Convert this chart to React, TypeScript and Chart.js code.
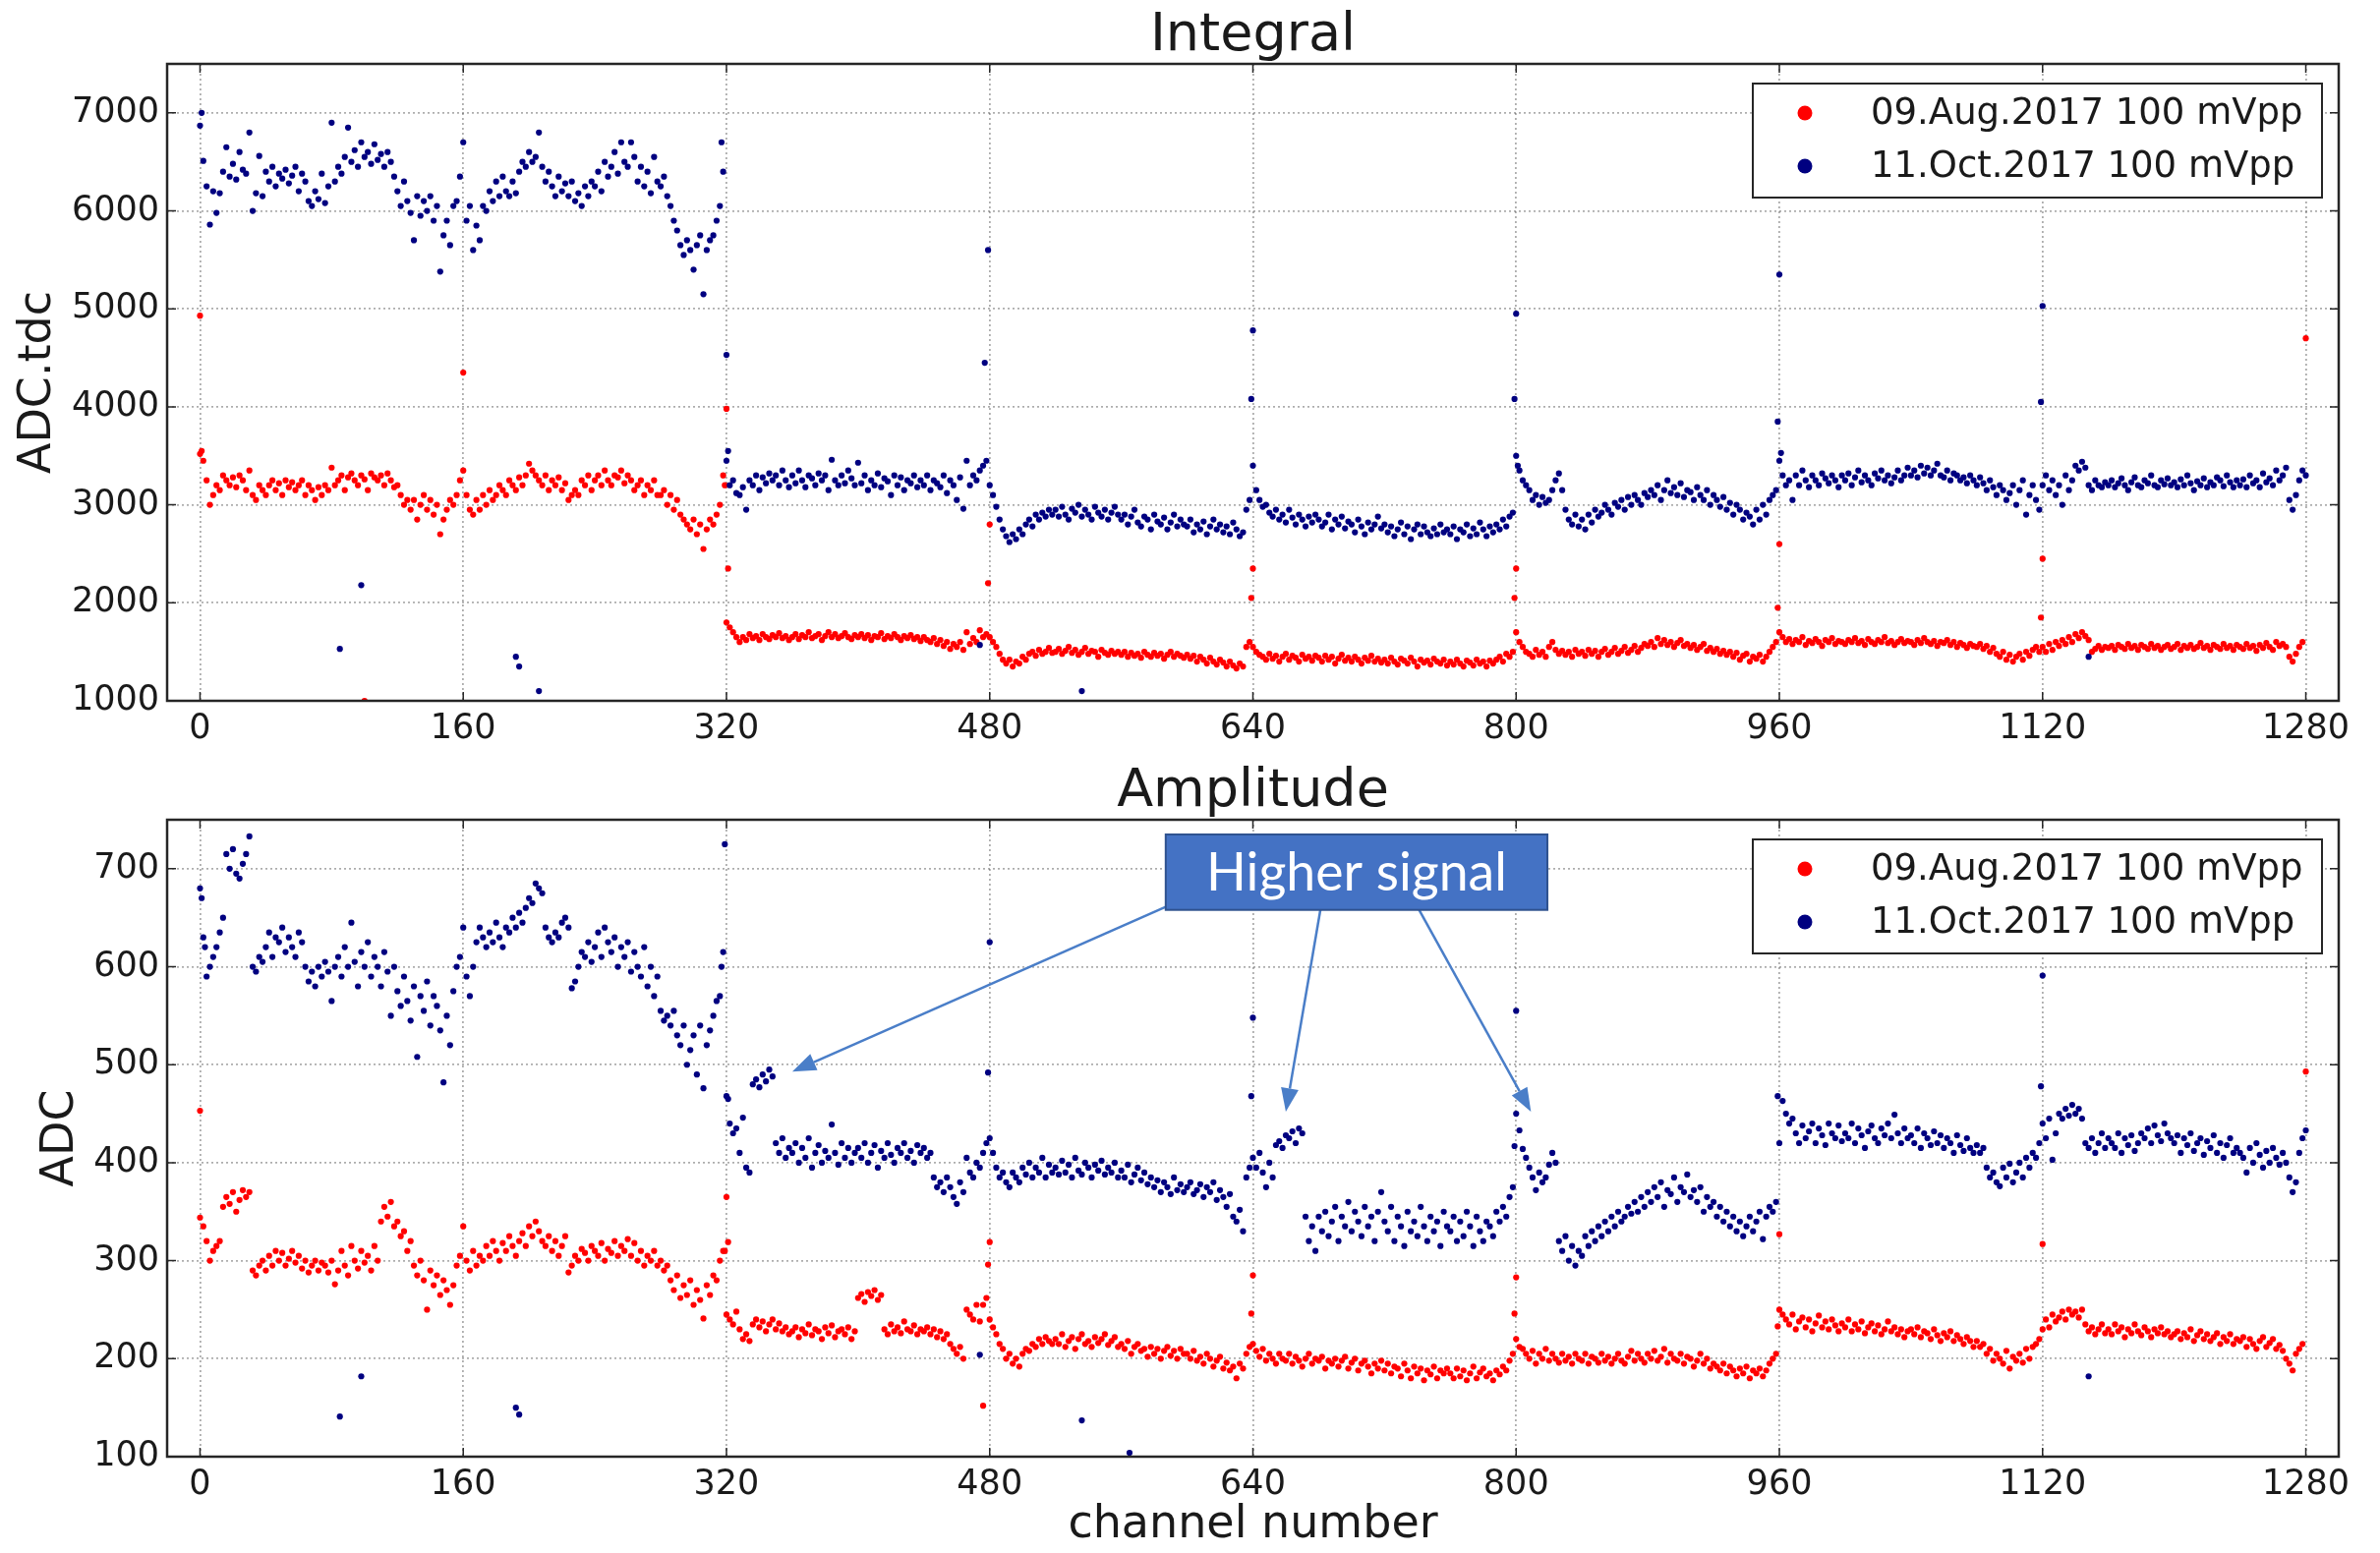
import React, { useEffect, useRef } from "react";
import { Chart, registerables } from "chart.js";

Chart.register(...registerables);

// ---------- labels / ticks ----------
const xTickValues = [0, 160, 320, 480, 640, 800, 960, 1120, 1280];
const integralTicks = [1000, 2000, 3000, 4000, 5000, 6000, 7000];
const amplitudeTicks = [100, 200, 300, 400, 500, 600, 700];
const seriesLabels = ["09.Aug.2017 100 mVpp", "11.Oct.2017 100 mVpp"];
const noteText = "Higher signal";
const CHANNEL_STEP = 2; // values below are read at channels 0, 2, 4, ...

// ---------- Integral, 09.Aug.2017 ----------
const intAug = [
  3520, 3450, 3250, 3000, 3100, 3200, 3150, 3300, 3250, 3200, 3280, 3180, 3300, 3250, 3150, 3350, 3100, 3050, 3200, 3150,
  3100, 3200, 3250, 3150, 3220, 3100, 3250, 3180, 3230, 3150, 3200, 3250, 3100, 3200, 3150, 3050, 3180, 3100, 3200, 3150,
  3380, 3200, 3250, 3300, 3150, 3280, 3320, 3250, 3200, 3300, 3260, 3150, 3320, 3280, 3250, 3300, 3200, 3320, 3250, 3180,
  3200, 3100, 3000, 3050, 2950, 3050, 2850, 3000, 3100, 2950, 3050, 2900, 3000, 2700, 2850, 2950, 3050, 3000, 3100, 3250,
  3350, 3100, 2950, 2900, 3050, 2950, 3100, 3000, 3150, 3050, 3100, 3200, 3150, 3100, 3250, 3200, 3150, 3280, 3200, 3300,
  3420, 3350, 3300, 3250, 3200, 3300, 3150, 3250, 3200, 3280, 3150, 3220, 3050, 3100, 3150, 3100, 3250, 3200, 3300, 3150,
  3250, 3300, 3200, 3350, 3250, 3200, 3300, 3280, 3350, 3220, 3300, 3250, 3150, 3200, 3250, 3100, 3200, 3150, 3250, 3100,
  3100, 3150, 3000, 3100, 2950, 3050, 2900, 2850, 2800, 2750, 2850, 2700, 2800, 2550, 2750, 2850, 2800, 2900, 3000, 3300,
  1800, 1750, 1700, 1650, 1600, 1650, 1620, 1680, 1640, 1660, 1620, 1680, 1650, 1630, 1670, 1650, 1690, 1640, 1660, 1620,
  1650, 1680, 1630, 1670, 1650, 1700, 1640, 1660, 1680, 1620, 1660, 1700, 1650, 1680, 1640, 1660, 1690, 1650, 1630, 1670,
  1650, 1680, 1640, 1670, 1620, 1660, 1650, 1690, 1630, 1660, 1640, 1680, 1650, 1620, 1660, 1640, 1670, 1630, 1650, 1610,
  1650, 1620, 1600, 1640, 1580, 1620, 1560, 1600, 1530, 1580, 1550, 1600, 1520, 1700, 1580, 1640, 1600, 1720, 1650, 1680,
  1650, 1600, 1550, 1480, 1420, 1380, 1420, 1350, 1400, 1380, 1450, 1420, 1480, 1500, 1460, 1520, 1480, 1500, 1540, 1490,
  1500, 1530, 1480, 1510, 1550, 1490, 1520, 1470, 1500, 1540, 1480, 1510, 1500, 1450, 1520, 1490, 1470, 1510, 1480, 1500,
  1470, 1500, 1450, 1490, 1460, 1480, 1440, 1500, 1470, 1450, 1490, 1460, 1480, 1430, 1470, 1500, 1450, 1480, 1460, 1440,
  1470, 1430, 1460, 1400, 1450, 1420, 1380, 1440, 1400, 1370, 1420, 1390, 1350, 1400, 1360, 1330, 1380, 1350, 1550, 1600,
  1550, 1500, 1470, 1450, 1420, 1480, 1430, 1460, 1400, 1450, 1480, 1420, 1460, 1440, 1400, 1470, 1430, 1450, 1410, 1460,
  1440, 1400, 1460, 1420, 1450, 1380, 1430, 1470, 1410, 1440, 1400, 1450, 1420, 1380, 1440, 1410, 1460, 1400, 1430, 1390,
  1420, 1380, 1440, 1400, 1370, 1430, 1410, 1380, 1440, 1400, 1350, 1420, 1390, 1410, 1370, 1430, 1400, 1380, 1420, 1360,
  1400, 1370, 1420, 1380, 1350, 1410, 1390, 1360, 1420, 1380, 1400, 1350, 1410, 1380, 1420, 1450, 1400, 1480, 1450, 1500,
  1700, 1600, 1550, 1500, 1480, 1450, 1520, 1470, 1500, 1450, 1550, 1600, 1520, 1480, 1510, 1470, 1500, 1450, 1520, 1480,
  1500, 1460, 1520, 1480, 1510, 1450, 1500, 1530, 1470, 1500, 1540, 1480, 1510, 1550, 1490, 1520, 1560, 1500, 1540, 1580,
  1560, 1600, 1550, 1640, 1580, 1620, 1570, 1600, 1550, 1590, 1620, 1560, 1580, 1540, 1570, 1520, 1550, 1580, 1510, 1540,
  1500, 1530, 1480, 1510, 1470, 1500, 1450, 1490, 1420, 1460, 1480, 1400, 1450, 1430, 1470, 1400, 1450, 1500, 1550, 1600,
  1700, 1650, 1600, 1630, 1580, 1620, 1600, 1650, 1570, 1610, 1590, 1630, 1600, 1560, 1620, 1600, 1640, 1580, 1610, 1600,
  1580, 1620, 1600, 1640, 1590, 1610, 1570, 1630, 1600, 1580, 1620, 1600, 1650, 1590, 1610, 1570, 1600, 1630, 1590, 1610,
  1600, 1570, 1620, 1590, 1640, 1600, 1580, 1610, 1560, 1600, 1590, 1620, 1570, 1600, 1550, 1590, 1570, 1540, 1580, 1560,
  1550, 1580, 1530, 1560, 1500, 1540, 1480, 1450, 1500, 1420, 1470, 1400, 1450, 1480, 1420, 1500, 1460, 1520, 1550, 1500,
  1550, 1500, 1580, 1520, 1600, 1560, 1620, 1580, 1650, 1600, 1680, 1640, 1700, 1660, 1620, 1500, 1530, 1560, 1520, 1550,
  1540, 1560, 1520, 1570, 1550, 1530, 1580, 1540, 1560, 1520, 1570, 1550, 1530, 1580, 1540, 1560, 1520, 1550, 1570, 1530,
  1550, 1580, 1520, 1560, 1540, 1570, 1530, 1550, 1590, 1540, 1560, 1520, 1570, 1550, 1530, 1580, 1540, 1560, 1520, 1570,
  1550, 1530, 1580, 1540, 1560, 1510, 1570, 1540, 1590, 1550, 1520, 1600, 1560, 1580, 1550, 1450, 1400, 1480, 1550, 1600,
];
const intAugExtra = [
  [0, 4930], [1, 3550], [100, 1000], [160, 4350], [319, 3200], [320, 3980], [321, 2350],
  [479, 2200], [480, 2800], [639, 2050], [640, 2350], [799, 2050], [800, 2350],
  [959, 1950], [960, 2600], [1119, 1850], [1120, 2450], [1280, 4700],
];

// ---------- Integral, 11.Oct.2017 ----------
const intOct = [
  6870, 6510, 6250, 5860, 6200, 5980, 6180, 6400, 6650, 6350, 6480, 6320, 6600, 6420, 6380, 6800, 6000, 6180, 6560, 6150,
  6400, 6300, 6450, 6250, 6380, 6330, 6420, 6280, 6360, 6450, 6200, 6380, 6300, 6100, 6050, 6200, 6120, 6380, 6080, 6250,
  6900, 6300, 6450, 6380, 6550, 6850, 6500, 6620, 6450, 6700, 6550, 6600, 6480, 6680, 6520, 6580, 6450, 6600, 6500, 6350,
  6200, 6050, 6300, 6100, 5980, 5700, 6150, 5950, 6100, 6000, 6150, 5900, 6050, 5380, 5750, 5900, 5650, 6050, 6100, 6350,
  6700, 5900, 6050, 5600, 5850, 5700, 6050, 6000, 6200, 6100, 6300, 6150, 6350, 6200, 6150, 6300, 6180, 6400, 6500, 6450,
  6600, 6500, 6550, 6800, 6450, 6300, 6400, 6250, 6150, 6350, 6200, 6280, 6150, 6300, 6100, 6180, 6050, 6250, 6150, 6300,
  6250, 6400, 6200, 6500, 6350, 6450, 6600, 6380, 6700, 6500, 6450, 6700, 6550, 6300, 6450, 6250, 6400, 6180, 6550, 6300,
  6250, 6350, 6150, 6050, 5900, 5800, 5650, 5550, 5700, 5600, 5400, 5650, 5750, 5150, 5600, 5700, 5750, 5900, 6050, 6400,
  3450, 3200, 3250, 3120, 3100, 3180, 2950, 3250, 3200, 3300, 3150, 3280, 3220, 3320, 3250, 3300, 3200, 3350, 3250, 3180,
  3300, 3220, 3350, 3250, 3180, 3300, 3270, 3200, 3320, 3250, 3300, 3150, 3460, 3250, 3200, 3300, 3220, 3350, 3270, 3200,
  3430, 3220, 3300, 3150, 3250, 3200, 3320, 3180, 3270, 3240, 3100, 3300, 3200, 3280, 3150, 3250, 3220, 3300, 3180, 3250,
  3200, 3300, 3150, 3250, 3220, 3180, 3300, 3120, 3250, 3200, 3050, 3280, 2960, 3450, 3200, 3300, 3250, 3350, 3400, 3450,
  3200, 3100, 2980, 2850, 2750, 2680, 2620, 2700, 2650, 2750, 2700, 2800, 2850, 2780, 2900, 2850, 2920, 2880, 2950, 2900,
  2950, 2880, 2980, 2900, 2850, 2960, 2920, 3000, 2880, 2950, 2900, 2850, 2980, 2920, 2880, 2950, 2850, 2920, 2980, 2900,
  2850, 2900, 2800, 2880, 2950, 2820, 2780, 2880, 2850, 2750, 2900, 2830, 2800, 2870, 2750, 2820, 2900, 2780, 2850, 2800,
  2780, 2850, 2720, 2800, 2750, 2830, 2700, 2780, 2850, 2750, 2800, 2720, 2780, 2700, 2820, 2750, 2680, 2720, 2950, 3050,
  3400, 3150, 3050, 2980, 3000, 2920, 2880, 2950, 2850, 2900, 2820, 2950, 2870, 2800, 2900, 2850, 2780, 2880, 2820, 2900,
  2850, 2780, 2820, 2900, 2750, 2850, 2800, 2880, 2760, 2830, 2800, 2720, 2850, 2780, 2700, 2820, 2750, 2800, 2880, 2760,
  2800, 2720, 2780, 2680, 2750, 2820, 2700, 2780, 2650, 2750, 2800, 2700, 2780, 2720, 2680, 2760, 2700, 2800, 2720, 2750,
  2700, 2780, 2650, 2750, 2720, 2800, 2680, 2760, 2700, 2820, 2750, 2680, 2780, 2720, 2800, 2750, 2850, 2780, 2880, 2920,
  3500, 3350, 3250, 3200, 3150, 3050, 3100, 3000, 3080, 3020, 3050, 3150, 3250, 3320, 3150, 2950, 2850, 2800, 2900, 2780,
  2850, 2750, 2900, 2820, 2950, 2880, 2920, 3000, 2950, 2900, 3020, 2980, 3050, 2950, 3080, 3000, 3100, 3050, 3000, 3120,
  3080, 3150, 3100, 3200, 3050, 3150, 3250, 3120, 3180, 3100, 3220, 3080, 3150, 3130, 3050, 3180, 3100, 3050, 3150, 3000,
  3100, 3050, 2980, 3080, 2950, 3020, 2900, 3000, 2950, 2850, 2920, 2880, 2800, 2950, 2850, 3000, 2900, 3050, 3100, 3150,
  3450, 3300, 3200, 3250, 3050, 3300, 3200, 3350, 3250, 3180, 3300, 3250, 3200, 3320, 3270, 3220, 3300, 3250, 3180, 3300,
  3250, 3320, 3200, 3280, 3350, 3230, 3300, 3250, 3200, 3320, 3270, 3350, 3250, 3300, 3220, 3280, 3350, 3250, 3300, 3380,
  3300, 3350, 3280, 3400, 3320, 3380, 3300, 3350, 3420, 3300, 3280, 3350, 3250, 3320, 3300, 3250, 3280, 3220, 3300, 3250,
  3200, 3280, 3220, 3150, 3250, 3180, 3100, 3200, 3150, 3050, 3120, 3200, 3000, 3150, 3250, 2900, 3100, 3200, 3050, 2950,
  3200, 3300, 3150, 3250, 3100, 3200, 3000, 3300, 3150, 3250, 3400, 3350, 3440, 3380, 3200, 3150, 3250, 3200, 3180, 3230,
  3200, 3250, 3180, 3220, 3270, 3200, 3150, 3230, 3280, 3200, 3180, 3250, 3220, 3300, 3200, 3180, 3250, 3210, 3270, 3200,
  3230, 3180, 3260, 3200, 3300, 3220, 3150, 3240, 3200, 3270, 3180, 3230, 3200, 3280, 3250, 3190, 3300, 3230, 3180, 3250,
  3200, 3260, 3180, 3300, 3220, 3250, 3180, 3320, 3230, 3270, 3200, 3350, 3250, 3300, 3380, 3050, 2950, 3100, 3250, 3350,
];
const intOctExtra = [
  [1, 7000], [85, 1530], [98, 2180], [192, 1450], [194, 1350], [206, 1100], [317, 6700],
  [320, 4530], [321, 3550], [474, 1570], [477, 4450], [479, 5600], [536, 1100],
  [639, 4080], [640, 4780], [799, 4080], [800, 4950], [801, 3400], [959, 3850],
  [960, 5350], [961, 3530], [1119, 4050], [1120, 5030], [1148, 1450], [1280, 3300],
];

// ---------- Amplitude, 09.Aug.2017 ----------
const ampAug = [
  344, 335, 320, 300, 310, 315, 320, 355, 365, 358, 370, 350, 362, 372, 365, 370, 290, 285, 295, 300,
  290, 305, 295, 310, 300, 308, 295, 302, 310, 298, 305, 292, 300, 288, 295, 300, 290, 298, 295, 288,
  300, 276, 290, 310, 295, 285, 315, 300, 292, 310, 298, 305, 290, 315, 300, 340, 355, 345, 360, 335,
  340, 325, 330, 310, 320, 295, 285, 300, 280, 250, 290, 275, 285, 265, 280, 270, 255, 275, 295, 305,
  335, 300, 290, 310, 295, 305, 300, 315, 305, 320, 310, 300, 318, 310, 325, 315, 305, 320, 328, 315,
  335, 325, 340, 330, 320, 315, 325, 310, 320, 305, 315, 325, 288, 295, 305, 300, 312, 308, 300, 315,
  310, 305, 318, 300, 312, 308, 320, 305, 315, 310, 322, 305, 318, 300, 310, 295, 305, 300, 310, 295,
  300, 290, 295, 280, 270, 285, 262, 275, 265, 280, 255, 270, 260, 241, 275, 265, 285, 280, 300, 310,
  245, 240, 235, 248, 230, 220, 225, 218, 235, 240, 232, 238, 228, 235, 240, 230, 236, 228, 232, 225,
  228, 232, 222, 230, 226, 235, 224, 230, 228, 220, 232, 226, 234, 222, 228, 230, 225, 232, 220, 228,
  262, 266, 258, 268, 264, 270, 260, 265, 230, 225, 235, 228, 232, 226, 238, 230, 228, 234, 225, 230,
  228, 232, 225, 230, 222, 228, 220, 225, 215, 210, 205, 212, 200, 250, 245, 240, 255, 238, 255, 262,
  240, 232, 225, 215, 210, 200, 205, 195, 200, 192, 205, 210, 208, 215, 212, 220, 215, 222, 218, 215,
  220, 215, 225, 212, 218, 222, 210, 220, 225, 215, 218, 212, 222, 216, 220, 225, 214, 218, 222, 212,
  215, 210, 218, 205, 212, 215, 208, 210, 202, 212, 205, 210, 200, 208, 212, 203, 208, 200, 210, 205,
  205, 200, 208, 198, 202, 195, 205, 200, 192, 198, 202, 190, 196, 188, 192, 180, 195, 190, 205, 212,
  215, 208, 202, 210, 198, 205, 200, 195, 205, 200, 198, 205, 195, 202, 198, 192, 200, 205, 195, 200,
  198, 202, 190, 198, 195, 200, 192, 198, 202, 190, 196, 200, 188, 195, 198, 192, 185, 195, 190, 198,
  188, 195, 185, 192, 190, 182, 195, 188, 180, 192, 185, 190, 178, 188, 184, 192, 180, 188, 185, 190,
  185, 180, 190, 182, 188, 178, 185, 192, 180, 186, 190, 182, 185, 178, 188, 184, 192, 188, 198, 205,
  220, 212, 210, 205, 200, 208, 195, 205, 200, 210, 198, 205, 200, 196, 205, 198, 202, 195, 205, 200,
  198, 205, 195, 202, 200, 196, 205, 198, 202, 195, 200, 205, 198, 195, 202, 208, 198, 205, 200, 196,
  205, 200, 208, 198, 202, 210, 196, 205, 200, 198, 205, 195, 202, 200, 192, 198, 205, 195, 200, 190,
  195, 192, 188, 195, 185, 192, 188, 182, 190, 185, 192, 180, 188, 185, 190, 182, 188, 195, 200, 205,
  250, 245, 240, 235, 245, 230, 238, 242, 232, 240, 228, 236, 244, 232, 238, 230, 240, 234, 228, 236,
  232, 240, 228, 235, 230, 238, 226, 232, 236, 228, 234, 225, 230, 238, 228, 232, 225, 230, 222, 228,
  230, 225, 232, 222, 228, 226, 220, 230, 224, 218, 226, 222, 228, 218, 224, 220, 215, 222, 218, 212,
  218, 212, 215, 205, 210, 198, 205, 200, 195, 208, 190, 202, 198, 205, 196, 210, 200, 212, 215, 220,
  230, 240, 232, 245, 238, 242, 248, 240, 250, 245, 248, 242, 250, 235, 228, 232, 225, 230, 235, 226,
  230, 225, 235, 228, 232, 222, 230, 226, 235, 228, 224, 232, 228, 222, 230, 226, 232, 225, 228, 222,
  225, 228, 220, 226, 222, 230, 218, 224, 228, 220, 225, 218, 222, 226, 215, 222, 218, 225, 215, 220,
  218, 222, 212, 220, 215, 210, 218, 222, 212, 216, 220, 210, 214, 208, 200, 195, 188, 205, 210, 215,
];
const ampAugExtra = [
  [0, 453], [319, 310], [320, 365], [321, 319], [476, 152], [479, 296], [480, 319],
  [639, 246], [640, 285], [799, 246], [800, 283], [959, 233], [960, 327], [1120, 317], [1280, 493],
];

// ---------- Amplitude, 11.Oct.2017 ----------
const ampOct = [
  680, 630, 590, 600, 610, 620, 635, 650, 715, 700, 720, 695, 690, 705, 715, 733, 600, 595, 610, 605,
  620, 635, 610, 630, 625, 640, 615, 630, 620, 610, 635, 625, 600, 585, 595, 580, 600, 590, 605, 595,
  565, 600, 610, 590, 620, 600, 645, 605, 580, 615, 600, 625, 590, 610, 600, 580, 615, 595, 550, 600,
  575, 560, 590, 565, 545, 580, 508, 570, 555, 585, 540, 570, 560, 535, 482, 550, 520, 575, 600, 610,
  640, 590, 570, 600, 625, 640, 630, 620, 635, 625, 645, 630, 620, 640, 635, 650, 640, 655, 645, 660,
  670, 665, 685, 680, 675, 640, 630, 625, 635, 630, 645, 650, 640, 578, 585, 600, 615, 610, 625, 605,
  620, 635, 610, 640, 625, 615, 630, 600, 620, 610, 625, 595, 615, 600, 590, 620, 580, 600, 570, 590,
  555, 545, 550, 540, 555, 530, 520, 540, 500, 515, 530, 490, 540, 476, 520, 535, 550, 565, 570, 615,
  468, 440, 430, 435, 410, 446, 395, 390, 480, 485, 477, 490, 483, 495, 488, 420, 410, 425, 405, 415,
  410, 420, 400, 415, 405, 425, 395, 410, 418, 400, 412, 405, 439, 410, 398, 420, 405, 415, 400, 410,
  415, 405, 420, 400, 410, 418, 395, 412, 405, 420, 408, 400, 415, 410, 420, 405, 412, 400, 418, 410,
  415, 405, 410, 385, 375, 380, 370, 385, 375, 365, 358, 380, 370, 405, 390, 385, 400, 395, 410, 420,
  425, 410, 395, 385, 390, 380, 375, 390, 385, 380, 395, 388, 400, 385, 395, 390, 405, 385, 398, 390,
  395, 388, 402, 390, 398, 385, 405, 392, 388, 400, 395, 385, 398, 392, 402, 388, 395, 390, 400, 385,
  392, 385, 398, 380, 388, 395, 382, 390, 378, 385, 375, 382, 370, 380, 375, 368, 385, 372, 378, 370,
  375, 380, 368, 372, 378, 365, 375, 370, 380, 362, 372, 365, 355, 368, 345, 340, 352, 330, 385, 395,
  405, 395, 410, 390, 375, 400, 385, 418, 422, 415, 428, 425, 432, 420, 435, 430, 345, 320, 335, 310,
  345, 330, 350, 325, 340, 355, 320, 345, 335, 360, 330, 350, 340, 325, 355, 335, 345, 320, 350, 370,
  340, 330, 355, 320, 345, 335, 315, 350, 330, 340, 325, 355, 335, 320, 345, 330, 340, 315, 350, 335,
  330, 345, 320, 340, 325, 350, 335, 315, 345, 330, 320, 340, 335, 325, 350, 340, 355, 345, 365, 375,
  450, 433, 414, 405, 395, 385, 372, 390, 380, 385, 398, 410, 400, 320, 310, 325, 300, 315, 295, 310,
  305, 325, 315, 330, 320, 335, 325, 340, 330, 345, 335, 350, 340, 345, 355, 348, 360, 350, 365, 355,
  370, 360, 375, 365, 380, 355, 372, 368, 385, 360, 375, 370, 388, 365, 372, 360, 375, 350, 365, 355,
  360, 345, 355, 340, 350, 335, 345, 330, 340, 325, 335, 345, 330, 340, 350, 322, 345, 355, 350, 360,
  420, 463, 450, 440, 445, 430, 420, 438, 425, 432, 440, 420, 435, 428, 418, 440, 430, 425, 438, 422,
  430, 425, 440, 420, 435, 428, 415, 432, 438, 425, 420, 435, 428, 440, 425, 449, 430, 420, 435, 425,
  428, 420, 435, 415, 430, 425, 418, 432, 420, 428, 415, 425, 420, 410, 428, 418, 412, 425, 415, 410,
  418, 410, 415, 395, 385, 390, 380, 376, 395, 385, 399, 380, 390, 400, 385, 405, 395, 410, 405, 420,
  440, 425, 445, 403, 430, 450, 445, 455, 448, 459, 450, 455, 445, 420, 415, 425, 410, 420, 430, 415,
  425, 420, 415, 430, 410, 425, 418, 428, 412, 420, 430, 425, 435, 420, 438, 428, 422, 440, 430, 425,
  420, 428, 410, 425, 418, 430, 412, 420, 425, 408, 422, 415, 428, 410, 420, 405, 418, 425, 410, 415,
  410, 405, 390, 415, 400, 420, 408, 395, 412, 400, 415, 405, 398, 410, 400, 385, 370, 380, 410, 425,
];
const ampOctExtra = [
  [1, 670], [3, 620], [85, 141], [98, 182], [192, 150], [194, 143], [317, 600], [319, 725],
  [321, 465], [474, 204], [479, 492], [480, 625], [536, 137], [565, 104], [639, 468], [640, 548],
  [799, 417], [800, 555], [959, 468], [1119, 478], [1120, 591], [1148, 182], [1280, 433],
];

// ---------- annotation (in data units of the Amplitude panel) ----------
const noteBox = { x0: 587, x1: 819, y0: 735, y1: 658 };
const noteArrows = [
  { from: [587, 661], to: [360, 493] },
  { from: [681, 658], to: [660, 452] },
  { from: [741, 658], to: [809, 452] },
];

// ---------- styling ----------
const RED = "#ff0000";
const NAVY = "#000080";
const FONT = '"DejaVu Sans", "Liberation Sans", sans-serif';
const FONT_FAMILY = "DejaVu Sans";
const TEXT = "#1a1a1a";
const W = 2421;
const H1 = 765;
const H2 = 815;

function toPoints(values: number[], extra: number[][]) {
  const pts = values.map((v, i) => ({ x: i * CHANNEL_STEP, y: v }));
  for (const [x, y] of extra) pts.push({ x, y });
  return pts;
}

function drawArrow(ctx: CanvasRenderingContext2D, x1: number, y1: number, x2: number, y2: number) {
  const ang = Math.atan2(y2 - y1, x2 - x1);
  const len = 24;
  const half = 9;
  const bx = x2 - Math.cos(ang) * len;
  const by = y2 - Math.sin(ang) * len;
  ctx.beginPath();
  ctx.moveTo(x1, y1);
  ctx.lineTo(bx, by);
  ctx.stroke();
  ctx.beginPath();
  ctx.moveTo(x2, y2);
  ctx.lineTo(bx + Math.sin(ang) * half, by - Math.cos(ang) * half);
  ctx.lineTo(bx - Math.sin(ang) * half, by + Math.cos(ang) * half);
  ctx.closePath();
  ctx.fill();
}

function decorPlugin(title: string, titleBaseline: number, yTicks: number[], withNote: boolean) {
  return {
    id: "decor",
    afterDraw(chart: any) {
      const { ctx, chartArea: a, scales } = chart;
      const xs = scales.x;
      const ys = scales.y;
      ctx.save();
      // frame
      ctx.strokeStyle = "#262626";
      ctx.lineWidth = 2.5;
      ctx.strokeRect(a.left, a.top, a.right - a.left, a.bottom - a.top);
      // inward tick marks
      ctx.lineWidth = 1.5;
      ctx.beginPath();
      for (const v of xTickValues) {
        const p = xs.getPixelForValue(v);
        ctx.moveTo(p, a.bottom);
        ctx.lineTo(p, a.bottom - 9);
        ctx.moveTo(p, a.top);
        ctx.lineTo(p, a.top + 9);
      }
      for (const v of yTicks) {
        const p = ys.getPixelForValue(v);
        ctx.moveTo(a.left, p);
        ctx.lineTo(a.left + 9, p);
        ctx.moveTo(a.right, p);
        ctx.lineTo(a.right - 9, p);
      }
      ctx.stroke();
      // panel title
      ctx.fillStyle = TEXT;
      ctx.font = `54px ${FONT}`;
      ctx.textAlign = "center";
      ctx.textBaseline = "alphabetic";
      ctx.fillText(title, (a.left + a.right) / 2, titleBaseline);

      // annotation
      if (withNote) {
        ctx.strokeStyle = "#4a7ec8";
        ctx.fillStyle = "#4a7ec8";
        ctx.lineWidth = 2.5;
        for (const ar of noteArrows) {
          drawArrow(
            ctx,
            xs.getPixelForValue(ar.from[0]),
            ys.getPixelForValue(ar.from[1]),
            xs.getPixelForValue(ar.to[0]),
            ys.getPixelForValue(ar.to[1])
          );
        }
        const bx0 = xs.getPixelForValue(noteBox.x0);
        const bx1 = xs.getPixelForValue(noteBox.x1);
        const by0 = ys.getPixelForValue(noteBox.y0);
        const by1 = ys.getPixelForValue(noteBox.y1);
        ctx.fillStyle = "#4472c4";
        ctx.fillRect(bx0, by0, bx1 - bx0, by1 - by0);
        ctx.strokeStyle = "#2f528f";
        ctx.lineWidth = 2;
        ctx.strokeRect(bx0, by0, bx1 - bx0, by1 - by0);
        ctx.font = `46px Lato, "Open Sans", sans-serif`;
        const tw = ctx.measureText(noteText).width;
        const size = Math.max(30, Math.min(60, (46 * 306) / tw));
        ctx.font = `${size}px Lato, "Open Sans", sans-serif`;
        ctx.fillStyle = "#ffffff";
        ctx.textAlign = "center";
        ctx.textBaseline = "middle";
        ctx.fillText(noteText, (bx0 + bx1) / 2, (by0 + by1) / 2 + 1);
      }

      // legend
      const bw = 579;
      const bh = 116;
      const lx = a.right - 17 - bw;
      const ly = a.top + 20;
      ctx.fillStyle = "#ffffff";
      ctx.fillRect(lx, ly, bw, bh);
      ctx.strokeStyle = "#262626";
      ctx.lineWidth = 2;
      ctx.strokeRect(lx, ly, bw, bh);
      ctx.font = `37px ${FONT}`;
      ctx.textAlign = "left";
      ctx.textBaseline = "middle";
      chart.data.datasets.forEach((ds: any, i: number) => {
        const cy = ly + 30 + i * 54;
        ctx.fillStyle = ds.backgroundColor;
        ctx.beginPath();
        ctx.arc(lx + 53, cy, 7.5, 0, Math.PI * 2);
        ctx.fill();
        ctx.fillStyle = TEXT;
        ctx.fillText(ds.label, lx + 120, cy + 1);
      });
      ctx.restore();
    },
  };
}

function makeConfig(cfg: {
  aug: { x: number; y: number }[];
  oct: { x: number; y: number }[];
  yMin: number;
  yMax: number;
  yTicks: number[];
  yTitle: string;
  yTitlePad: number;
  padTop: number;
  xHeight: number;
  xTitle?: string;
  title: string;
  titleBaseline: number;
  note: boolean;
}): any {
  const tickFont = { family: FONT_FAMILY, size: 35 };
  const titleFont = { family: FONT_FAMILY, size: 46 };
  const grid = { color: "rgba(0,0,0,0.32)", lineWidth: 1.8, drawTicks: false };
  const border = { display: false, dash: [2, 3] };
  return {
    type: "scatter",
    data: {
      datasets: [
        {
          label: seriesLabels[0],
          data: cfg.aug,
          backgroundColor: RED,
          pointBackgroundColor: RED,
          pointBorderWidth: 0,
          borderWidth: 0,
          pointRadius: 3.1,
          order: 2,
        },
        {
          label: seriesLabels[1],
          data: cfg.oct,
          backgroundColor: NAVY,
          pointBackgroundColor: NAVY,
          pointBorderWidth: 0,
          borderWidth: 0,
          pointRadius: 3.1,
          order: 1,
        },
      ],
    },
    options: {
      responsive: false,
      maintainAspectRatio: false,
      animation: false,
      devicePixelRatio: 1,
      events: [],
      layout: { padding: { top: cfg.padTop, right: 42, bottom: 0, left: 0 } },
      plugins: {
        legend: { display: false },
        tooltip: { enabled: false },
        title: { display: false },
      },
      scales: {
        x: {
          type: "linear",
          min: -20,
          max: 1300,
          afterBuildTicks: (s: any) => {
            s.ticks = xTickValues.map((v) => ({ value: v }));
          },
          afterFit: (s: any) => {
            s.height = cfg.xHeight;
          },
          ticks: {
            callback: (v: any) => String(v),
            font: tickFont,
            color: TEXT,
            padding: 8,
            maxRotation: 0,
            autoSkip: false,
          },
          grid,
          border,
          title: cfg.xTitle
            ? { display: true, text: cfg.xTitle, font: titleFont, color: TEXT, padding: { top: 0, bottom: 0 } }
            : { display: false },
        },
        y: {
          type: "linear",
          min: cfg.yMin,
          max: cfg.yMax,
          afterBuildTicks: (s: any) => {
            s.ticks = cfg.yTicks.map((v) => ({ value: v }));
          },
          afterFit: (s: any) => {
            s.width = 170;
          },
          ticks: {
            callback: (v: any) => String(v),
            font: tickFont,
            color: TEXT,
            padding: 8,
            autoSkip: false,
          },
          grid,
          border,
          title: {
            display: true,
            text: cfg.yTitle,
            font: titleFont,
            color: TEXT,
            padding: { top: cfg.yTitlePad, bottom: 0 },
          },
        },
      },
    },
    plugins: [decorPlugin(cfg.title, cfg.titleBaseline, cfg.yTicks, cfg.note)],
  };
}

export default function App() {
  const topRef = useRef<HTMLCanvasElement>(null);
  const botRef = useRef<HTMLCanvasElement>(null);

  useEffect(() => {
    document.body.style.margin = "0";
    const c1 = new Chart(
      topRef.current as HTMLCanvasElement,
      makeConfig({
        aug: toPoints(intAug, intAugExtra),
        oct: toPoints(intOct, intOctExtra),
        yMin: 1000,
        yMax: 7500,
        yTicks: integralTicks,
        yTitle: "ADC.tdc",
        yTitlePad: 11,
        padTop: 65,
        xHeight: H1 - 713,
        title: "Integral",
        titleBaseline: 51,
        note: false,
      })
    );
    const c2 = new Chart(
      botRef.current as HTMLCanvasElement,
      makeConfig({
        aug: toPoints(ampAug, ampAugExtra),
        oct: toPoints(ampOct, ampOctExtra),
        yMin: 100,
        yMax: 750,
        yTicks: amplitudeTicks,
        yTitle: "ADC",
        yTitlePad: 34,
        padTop: 69,
        xHeight: H2 - 717,
        xTitle: "channel number",
        title: "Amplitude",
        titleBaseline: 55,
        note: true,
      })
    );
    return () => {
      c1.destroy();
      c2.destroy();
    };
  }, []);

  return (
    <div
      style={{
        position: "absolute",
        left: 0,
        top: 0,
        width: W,
        height: H1 + H2,
        background: "#ffffff",
        overflow: "hidden",
      }}
    >
      <canvas
        ref={topRef}
        width={W}
        height={H1}
        style={{ position: "absolute", left: 0, top: 0, width: W, height: H1, display: "block" }}
      />
      <canvas
        ref={botRef}
        width={W}
        height={H2}
        style={{ position: "absolute", left: 0, top: H1, width: W, height: H2, display: "block" }}
      />
    </div>
  );
}
